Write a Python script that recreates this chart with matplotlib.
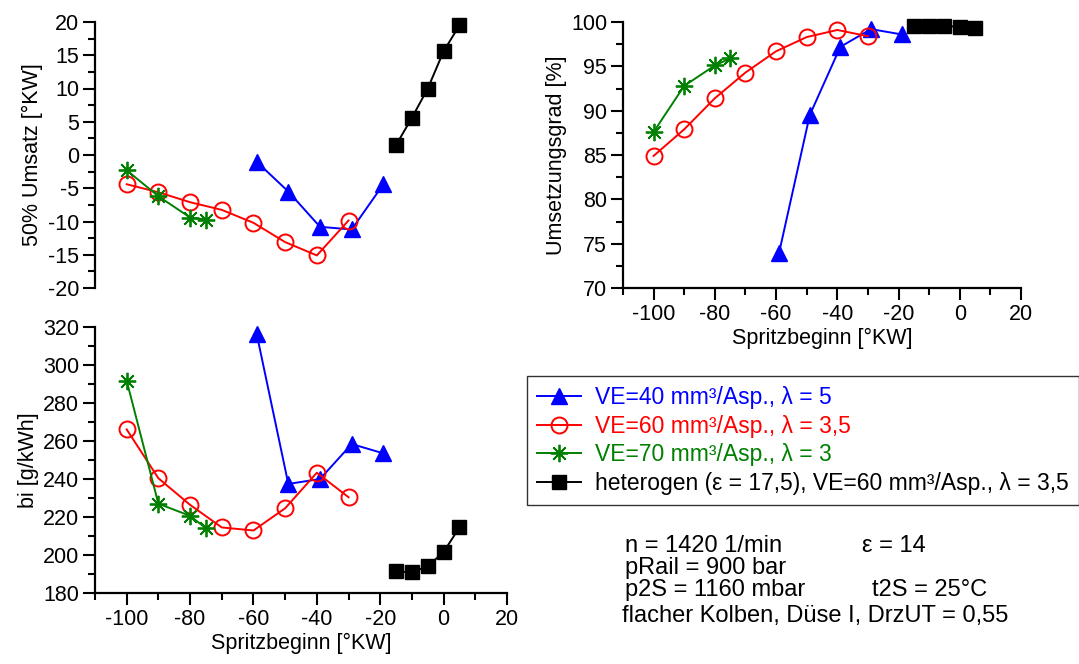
import numpy as np
import matplotlib
matplotlib.use("Agg")
import matplotlib.pyplot as plt
from matplotlib.ticker import MultipleLocator

# Spritzbeginn [°KW]
x_ve40 = [-59, -49, -39, -29, -19]
x_ve60 = [-100, -90, -80, -70, -60, -50, -40, -30]
x_ve70 = [-100, -90, -80, -75]
x_het = [-15, -10, -5, 0, 5]

# 50% Umsatz [°KW]
u50_ve40 = [-1.0, -5.5, -10.8, -11.2, -4.4]
u50_ve60 = [-4.4, -5.6, -7.1, -8.25, -10.2, -13.1, -15.1, -9.85]
u50_ve70 = [-2.3, -6.2, -9.4, -9.7]
u50_het = [1.5, 5.6, 10.0, 15.6, 19.5]

# bi [g/kWh]
bi_ve40 = [316.5, 237.4, 240.0, 258.4, 253.5]
bi_ve60 = [266.1, 240.4, 226.4, 214.5, 212.9, 224.6, 243.3, 230.4]
bi_ve70 = [291.7, 227.0, 220.6, 214.1]
bi_het = [191.4, 190.9, 194.1, 201.6, 214.5]

# Umsetzungsgrad [%]
ug_ve40 = [74.0, 89.5, 97.2, 99.2, 98.6]
ug_ve60 = [84.9, 87.9, 91.4, 94.3, 96.7, 98.3, 99.1, 98.4]
ug_ve70 = [87.6, 92.8, 95.1, 95.9]
ug_het = [99.6, 99.6, 99.55, 99.45, 99.3]

labels = ["VE=40 mm³/Asp., λ = 5",
          "VE=60 mm³/Asp., λ = 3,5",
          "VE=70 mm³/Asp., λ = 3",
          "heterogen (ε = 17,5), VE=60 mm³/Asp., λ = 3,5"]

plt.rcParams['font.family'] = ['Liberation Sans', 'DejaVu Sans']
plt.rcParams['axes.unicode_minus'] = False

styles = [
    dict(color='blue', marker='^', ms=12, lw=1.4),
    dict(color='red', marker='o', ms=11.5, lw=1.4, mfc='none', mew=1.4),
    dict(color='green', marker=(8, 2, 0), ms=12.5, lw=1.4, mew=1.3),
    dict(color='black', marker='s', ms=10, lw=1.4),
]

W, H = 1079, 664
fig = plt.figure(figsize=(W / 100, H / 100), dpi=100)


def box(l, r, t, b):
    return [l / W, (H - b) / H, (r - l) / W, (b - t) / H]


ax1 = fig.add_axes(box(95, 507, 22, 288))
ax2 = fig.add_axes(box(95, 507, 327, 593))
ax3 = fig.add_axes(box(623, 1021, 22, 288))

xs = [x_ve40, x_ve60, x_ve70, x_het]
panels = [
    (ax1, [u50_ve40, u50_ve60, u50_ve70, u50_het], (-20, 20), 5, '50% Umsatz [°KW]'),
    (ax2, [bi_ve40, bi_ve60, bi_ve70, bi_het], (180, 320), 20, 'bi [g/kWh]'),
    (ax3, [ug_ve40, ug_ve60, ug_ve70, ug_het], (70, 100), 5, 'Umsetzungsgrad [%]'),
]

tfs = 15.5
for ax, ys, ylim, step, ylab in panels:
    for x, y, st, lab in zip(xs, ys, styles, labels):
        ax.plot(x, y, label=lab, clip_on=False, **st)
    ax.set_xlim(-110, 20)
    ax.set_ylim(*ylim)
    ax.yaxis.set_major_locator(MultipleLocator(step))
    ax.yaxis.set_minor_locator(MultipleLocator(step / 2))
    ax.xaxis.set_major_locator(MultipleLocator(20))
    ax.xaxis.set_minor_locator(MultipleLocator(10))
    for s in ['top', 'right']:
        ax.spines[s].set_visible(False)
    for s in ['left', 'bottom']:
        ax.spines[s].set_linewidth(1.6)
    ax.tick_params(which='major', direction='out', length=8.5, width=1.5, pad=3,
                   labelsize=tfs)
    ax.tick_params(which='minor', direction='out', length=5, width=1.5)
    ax.set_ylabel(ylab, fontsize=tfs, labelpad=3)

ax1.spines['bottom'].set_visible(False)
ax1.tick_params(axis='x', which='both', bottom=False, labelbottom=False)
ax2.set_xlabel('Spritzbeginn [°KW]', fontsize=tfs, labelpad=2)
ax3.set_xlabel('Spritzbeginn [°KW]', fontsize=tfs, labelpad=2)

handles, labs = ax1.get_legend_handles_labels()
leg = fig.legend(handles, labs, loc='upper left', bbox_to_anchor=(527 / W, 1 - 376 / H),
                 fontsize=16.5, frameon=True, fancybox=False, edgecolor='black',
                 handlelength=1.9, handletextpad=0.6, labelspacing=0.24,
                 borderpad=0.45, borderaxespad=0, labelcolor='linecolor')
leg.get_frame().set_linewidth(1.0)

fs = 17
fig.text(625 / W, 1 - 552 / H, 'n = 1420 1/min', fontsize=fs, va='baseline')
fig.text(862 / W, 1 - 552 / H, 'ε = 14', fontsize=fs, va='baseline')
fig.text(625 / W, 1 - 574 / H, 'pRail = 900 bar', fontsize=fs, va='baseline')
fig.text(625 / W, 1 - 596 / H, 'p2S = 1160 mbar', fontsize=fs, va='baseline')
fig.text(872 / W, 1 - 596 / H, 't2S = 25°C', fontsize=fs, va='baseline')
fig.text(622 / W, 1 - 622 / H, 'flacher Kolben, Düse I, DrzUT = 0,55', fontsize=fs, va='baseline')

fig.savefig('out.png', dpi=100)
